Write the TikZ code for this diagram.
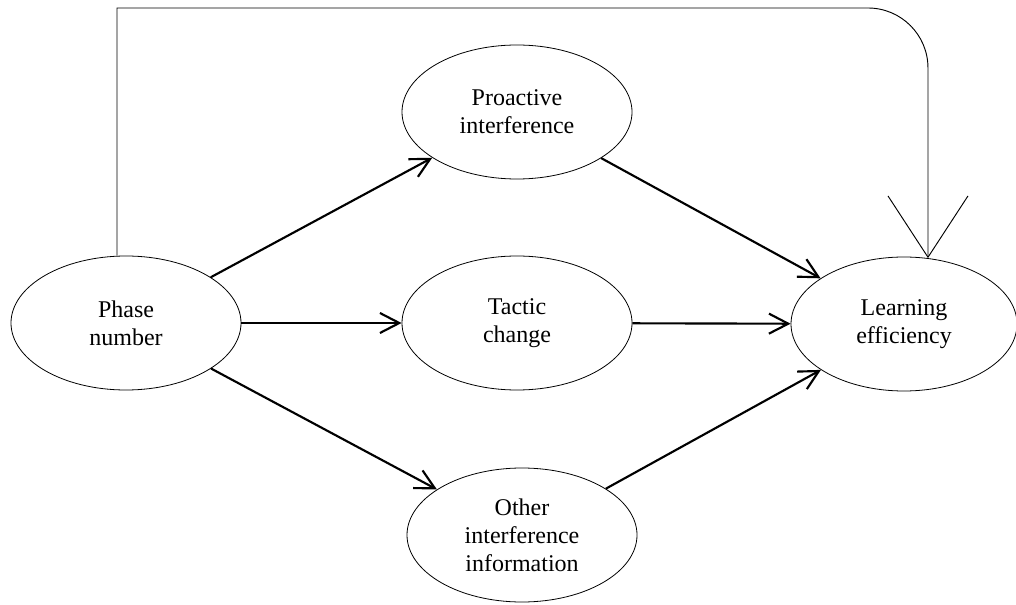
\documentclass[tikz,border=0pt]{standalone}
\usepackage{fontspec}
\setmainfont{Liberation Serif}
\usetikzlibrary{shapes.geometric,arrows.meta}
\begin{document}
\begin{tikzpicture}[x=0.75pt, y=-0.75pt, line width=0.6pt,
  blob/.style={ellipse, draw, minimum width=172.5pt, minimum height=100.5pt, inner sep=0pt, align=center, font=\fontsize{18}{21}\selectfont},
  link/.style={-{Straight Barb[length=14.5pt,width=15pt]}, line width=1.6pt},
  backline/.style={-{Straight Barb[length=46pt,width=60pt]}, line width=0.7pt}]
  \useasboundingbox (0,0) rectangle (1016,605);
  \node[blob] (phase) at (126,323) {Phase\\number};
  \node[blob] (proactive) at (517,112) {Proactive\\interference};
  \node[blob] (tactic) at (517,323) {Tactic\\change};
  \node[blob] (other) at (522,535) {Other\\interference\\information};
  \node[blob, minimum width=169.5pt] (learning) at (904,324) {Learning\\efficiency};
  \draw[link] (phase) -- (proactive);
  \draw[link] (phase) -- (tactic);
  \draw[link] (phase) -- (other);
  \draw[link] (proactive) -- (learning);
  \draw[link] (tactic) -- (learning);
  \draw[link] (other) -- (learning);
  \coordinate (topleft) at (117,8);
  \draw[backline] ([xshift=-6.75pt]phase.north) -- (topleft) [rounded corners=45pt] -| (learning.70);
\end{tikzpicture}
\end{document}
